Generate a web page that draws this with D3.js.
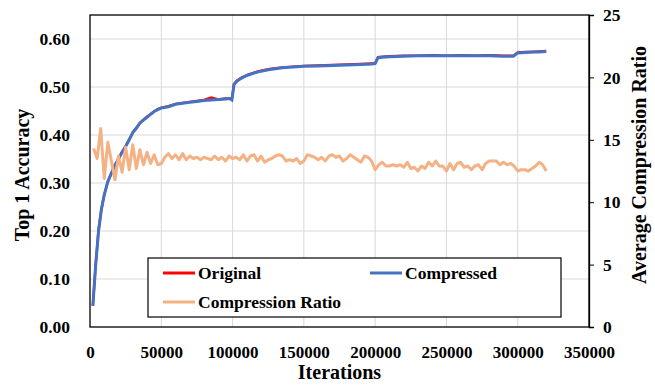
<!DOCTYPE html>
<html>
<head>
<meta charset="utf-8">
<script src="https://cdn.jsdelivr.net/npm/d3@7"></script>
<style>
  body { margin: 0; background: #fff; }
  text { font-family: "Liberation Serif", "Times New Roman", serif; font-weight: bold; fill: #000; }
</style>
</head>
<body>
<div id="chart"></div>
<script>
// accuracy samples (iterations)
const accIters = [2000, 4000, 6000, 8000, 10000, 12500, 15000, 17500, 20000, 22500, 25000, 27500,
  30000, 32500, 35000, 37500, 40000, 42500, 45000, 47500, 50000, 55000, 60000, 65000, 70000,
  75000, 80000, 85000, 90000, 95000, 98000, 99500, 101000, 103000, 106000, 110000, 115000,
  120000, 125000, 130000, 135000, 140000, 145000, 150000, 160000, 170000, 180000, 190000,
  198000, 200000, 202000, 205000, 210000, 220000, 230000, 240000, 250000, 260000, 270000,
  280000, 290000, 297000, 300000, 305000, 310000, 315000, 320000];

const compressed = [0.044, 0.13, 0.20, 0.245, 0.275, 0.303, 0.32, 0.337, 0.35, 0.364, 0.376, 0.39,
  0.405, 0.414, 0.425, 0.431, 0.437, 0.443, 0.449, 0.453, 0.456, 0.459, 0.464, 0.466, 0.468,
  0.470, 0.472, 0.473, 0.474, 0.475, 0.476, 0.473, 0.505, 0.512, 0.518, 0.524, 0.529,
  0.533, 0.536, 0.538, 0.540, 0.541, 0.542, 0.543, 0.544, 0.545, 0.546, 0.547,
  0.548, 0.549, 0.561, 0.562, 0.563, 0.564, 0.565, 0.565, 0.565, 0.565, 0.565,
  0.565, 0.564, 0.564, 0.571, 0.572, 0.573, 0.573, 0.574];

const original = [0.044, 0.131, 0.202, 0.246, 0.276, 0.303, 0.321, 0.338, 0.351, 0.365, 0.377, 0.391,
  0.405, 0.415, 0.425, 0.432, 0.438, 0.444, 0.449, 0.454, 0.457, 0.460, 0.465, 0.467, 0.469,
  0.471, 0.473, 0.478, 0.474, 0.476, 0.476, 0.474, 0.506, 0.513, 0.519, 0.525, 0.530,
  0.534, 0.537, 0.539, 0.541, 0.542, 0.543, 0.544, 0.545, 0.546, 0.547, 0.548,
  0.549, 0.549, 0.562, 0.563, 0.564, 0.565, 0.565, 0.566, 0.565, 0.566, 0.565,
  0.566, 0.565, 0.565, 0.572, 0.573, 0.573, 0.574, 0.575];

// compression ratio, one value every 2500 iterations starting at 2500
const ratioStep = 2500;
const ratio = [14.3, 13.5, 15.9, 11.9, 14.8, 13.3, 11.8, 13.7, 12.4, 14.4, 12.6, 14.6, 12.7, 14.2,
  13.0, 14.0, 13.1, 13.8, 13.0, 13.1, 13.6, 13.9, 13.5, 13.8, 13.4, 13.9, 13.4, 13.7, 13.5,
  13.6, 13.4, 13.6, 13.5, 13.4, 13.7, 13.4, 13.6, 13.3, 13.7, 13.5, 13.6, 13.4, 13.8, 13.3,
  13.7, 13.8, 13.3, 13.7, 13.2, 13.4, 13.5, 13.7, 13.8, 13.7, 13.3, 13.4, 13.3, 13.5, 13.1,
  13.3, 13.8, 13.7, 13.6, 13.4, 13.6, 13.3, 13.7, 13.8, 13.6, 13.7, 13.3, 13.5, 13.8, 13.6,
  13.4, 13.2, 13.7, 13.6, 13.3, 12.6, 13.0, 13.2, 12.9, 12.9, 13.0, 12.9, 13.0, 12.8, 13.2,
  12.7, 12.8, 12.5, 12.9, 12.7, 13.2, 12.9, 13.3, 12.9, 12.9, 12.5, 13.1, 12.6, 13.1, 13.2,
  12.8, 12.9, 12.6, 12.9, 13.0, 12.6, 13.1, 13.3, 13.3, 13.3, 13.0, 13.2, 13.0, 13.1, 12.9,
  12.5, 12.6, 12.6, 12.5, 12.7, 12.9, 13.2, 13.0, 12.5];

const xTicks = [0, 50000, 100000, 150000, 200000, 250000, 300000, 350000];
const yLeftTicks = [0, 0.1, 0.2, 0.3, 0.4, 0.5, 0.6];
const yRightTicks = [0, 5, 10, 15, 20, 25];
const legendItems = [
  { name: 'Original', color: '#ff0000' },
  { name: 'Compressed', color: '#4472c4' },
  { name: 'Compression Ratio', color: '#f4b183' }
];

const width = 655, height = 385;
const margin = { top: 15, right: 66, bottom: 58, left: 90 };

const svg = d3.select('#chart').append('svg')
  .attr('width', width)
  .attr('height', height);

const x = d3.scaleLinear().domain([0, 350000]).range([margin.left, width - margin.right]);
const yLeft = d3.scaleLinear().domain([0, 0.65]).range([height - margin.bottom, margin.top]);
const yRight = d3.scaleLinear().domain([0, 25]).range([height - margin.bottom, margin.top]);

// gridlines
svg.append('g')
  .selectAll('line.h')
  .data(yLeftTicks.slice(1))
  .join('line')
  .attr('x1', margin.left).attr('x2', width - margin.right)
  .attr('y1', d => yLeft(d)).attr('y2', d => yLeft(d))
  .attr('stroke', '#d9d9d9').attr('stroke-width', 1);
svg.append('g')
  .selectAll('line.v')
  .data(xTicks.slice(1, -1))
  .join('line')
  .attr('x1', d => x(d)).attr('x2', d => x(d))
  .attr('y1', margin.top).attr('y2', height - margin.bottom)
  .attr('stroke', '#d9d9d9').attr('stroke-width', 1);

// frame
svg.append('rect')
  .attr('x', margin.left).attr('y', margin.top)
  .attr('width', width - margin.left - margin.right)
  .attr('height', height - margin.top - margin.bottom)
  .attr('fill', 'none').attr('stroke', '#000').attr('stroke-width', 1.3);

// axes
const fmt2 = d3.format('.2f');
svg.append('g')
  .attr('transform', `translate(${margin.left},0)`)
  .call(d3.axisLeft(yLeft).tickValues(yLeftTicks).tickFormat(fmt2).tickSize(0).tickPadding(20))
  .call(g => g.select('.domain').remove())
  .selectAll('text').style('font-size', '17.5px').style('font-family', null);

svg.append('g')
  .attr('transform', `translate(${width - margin.right},0)`)
  .call(d3.axisRight(yRight).tickValues(yRightTicks).tickSize(5).tickPadding(9))
  .call(g => g.select('.domain').attr('stroke-width', 1.3))
  .selectAll('text').style('font-size', '17.5px').style('font-family', null);

svg.append('g')
  .attr('transform', `translate(0,${height - margin.bottom})`)
  .call(d3.axisBottom(x).tickValues(xTicks).tickFormat(d3.format('d')).tickSize(0).tickPadding(19))
  .call(g => g.select('.domain').remove())
  .selectAll('text').style('font-size', '17px').style('font-family', null);

// axis titles
svg.append('text')
  .attr('transform', 'rotate(-90)')
  .attr('x', -175).attr('y', 29)
  .attr('text-anchor', 'middle')
  .style('font-size', '20px')
  .text('Top 1 Accuracy');
svg.append('text')
  .attr('transform', 'rotate(-90)')
  .attr('x', -165).attr('y', 646)
  .attr('text-anchor', 'middle')
  .style('font-size', '20px')
  .text('Average Compression Ratio');
svg.append('text')
  .attr('x', x(175000)).attr('y', 379)
  .attr('text-anchor', 'middle')
  .style('font-size', '20px')
  .text('Iterations');

// lines
const accLine = vals => d3.line()
  .x((d, i) => x(accIters[i]))
  .y(d => yLeft(d))(vals);

svg.append('path')
  .attr('d', accLine(original))
  .attr('fill', 'none').attr('stroke', '#ff0000').attr('stroke-width', 2.4);
svg.append('path')
  .attr('d', accLine(compressed))
  .attr('fill', 'none').attr('stroke', '#4472c4').attr('stroke-width', 3);

const ratioLine = d3.line()
  .x((d, i) => x(ratioStep * (i + 1)))
  .y(d => yRight(d));
svg.append('path')
  .datum(ratio)
  .attr('d', ratioLine)
  .attr('fill', 'none').attr('stroke', '#f4b183').attr('stroke-width', 3)
  .attr('stroke-linejoin', 'round');

// legend
const lg = svg.append('g');
lg.append('rect')
  .attr('x', 148).attr('y', 258).attr('width', 413).attr('height', 59)
  .attr('fill', '#fff').attr('stroke', '#000').attr('stroke-width', 1.2);
const legendPos = [[163, 273], [370, 273], [163, 302]];
legendItems.forEach((d, i) => {
  const [lx, ly] = legendPos[i];
  lg.append('line')
    .attr('x1', lx).attr('x2', lx + 32).attr('y1', ly).attr('y2', ly)
    .attr('stroke', d.color).attr('stroke-width', 3);
  lg.append('text')
    .attr('x', lx + 35).attr('y', ly).attr('dy', '0.35em')
    .style('font-size', '17.5px')
    .text(d.name);
});
</script>
</body>
</html>
